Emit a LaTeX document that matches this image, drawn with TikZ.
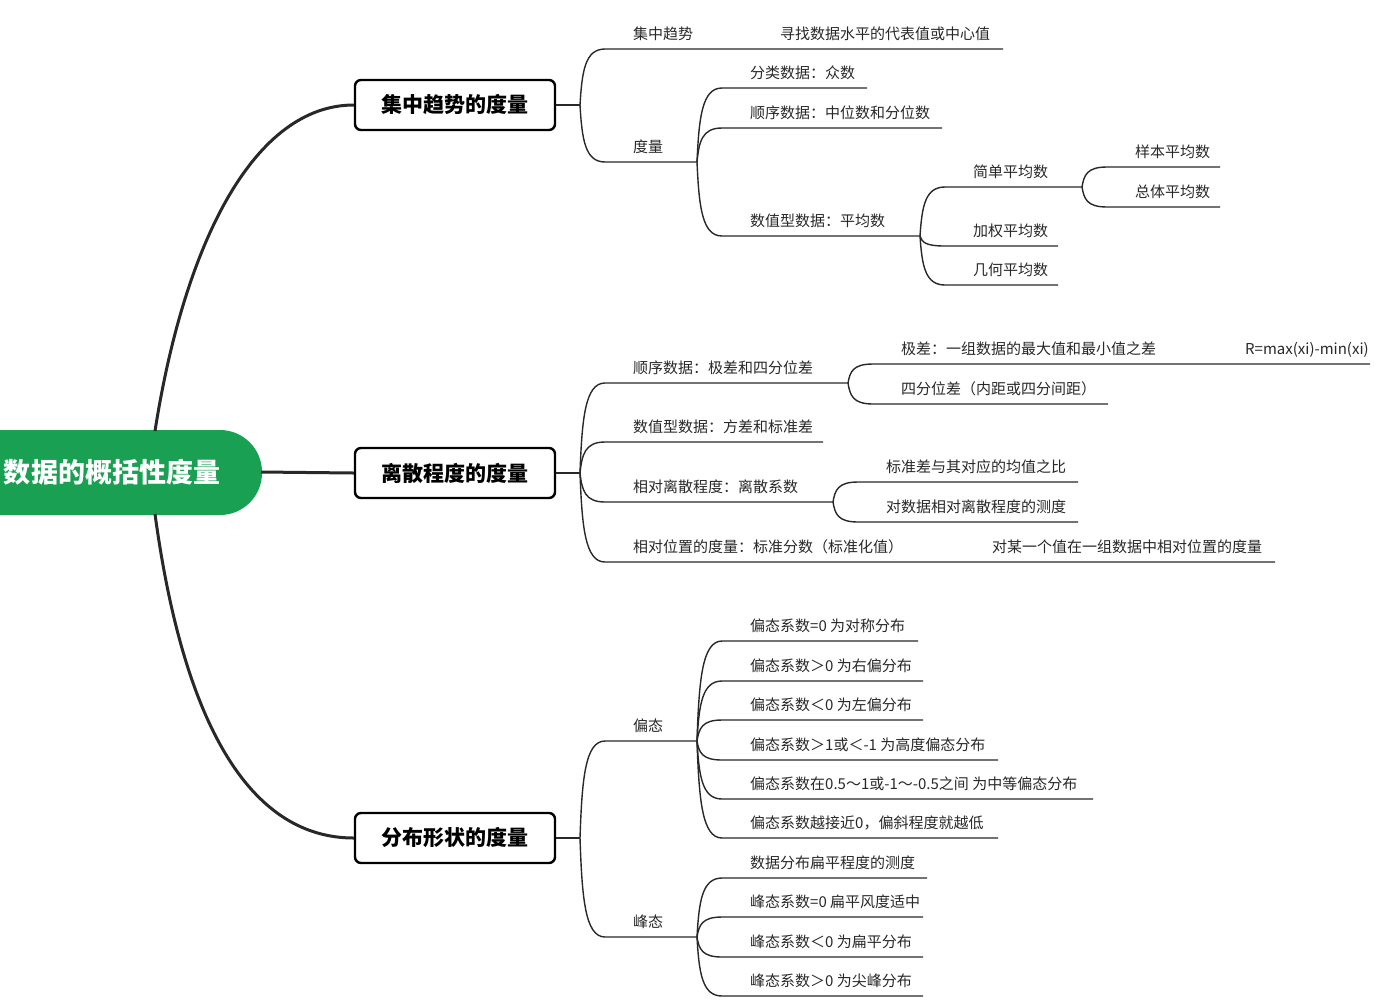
\documentclass[tikz,border=0pt]{standalone}
\usepackage{fontspec}
\setmainfont{Noto Sans CJK SC}
\definecolor{rootgreen}{RGB}{26,160,82}
\definecolor{ink}{RGB}{40,40,40}
% #1 name, #2 branch coordinate, #3 branch x, #4 branch y, #5 line y, #6 line end x, #7 text
\newcommand\leaf[7]{%
  \coordinate (#1-a) at ({#3+25},{#5});
  \coordinate (#1-b) at ({#6},{#5});
  \draw[sub] (#2) .. controls ({#3+2},{#4+0.6*(#5-#4)}) and ({#3+5},{#5}) .. (#1-a) -- (#1-b);
  \node[lbl] (#1) at ({#3+53},{#5-10}) {#7};
}
\begin{document}
\begin{tikzpicture}[x=1pt,y=-1pt,
  sub/.style={draw=ink,line width=1.4pt},
  main/.style={draw=ink,line width=3pt},
  lbl/.style={anchor=base west,inner sep=0pt,font=\fontsize{15}{18}\selectfont,text=ink},
  topicbox/.style={draw=black,line width=2.4pt,rounded corners=6pt,fill=white,
    minimum width=200pt,minimum height=50pt,inner sep=0pt,
    font=\fontsize{21}{25}\selectfont\bfseries}]
\useasboundingbox (0,0) rectangle (1388,1005);

% root
\path[fill=rootgreen,rounded corners=42pt] (-90,430) rectangle (262,515);
\node[inner sep=0pt,text=white,font=\fontsize{27}{32}\selectfont\bfseries] (root) at (112,472) {数据的概括性度量};
\coordinate (root-n) at (155,431);
\coordinate (root-e) at (261,472);
\coordinate (root-s) at (155,514);

% main topics
\node[topicbox] (t1) at (455,105) {集中趋势的度量};
\node[topicbox] (t2) at (455,473) {离散程度的度量};
\node[topicbox] (t3) at (455,838) {分布形状的度量};

\draw[main] (root-n) .. controls (185,240) and (255,105) .. (t1.west);
\draw[main] (root-e) -- (t2.west);
\draw[main] (root-s) .. controls (185,735) and (255,838) .. (t3.west);

\coordinate (b1) at (580,105);
\coordinate (b2) at (580,473);
\coordinate (b3) at (580,838);
\draw[sub] (t1.east) -- (b1);
\draw[sub] (t2.east) -- (b2);
\draw[sub] (t3.east) -- (b3);

% ---- 集中趋势的度量
\leaf{jzqs}{b1}{580}{105}{49}{1003}{集中趋势}
\node[lbl] (jzqs-c) at (780,39) {寻找数据水平的代表值或中心值};
\leaf{dl}{b1}{580}{105}{162}{697}{度量}
\leaf{fl}{dl-b}{697}{162}{88}{867}{分类数据：众数}
\leaf{sx}{dl-b}{697}{162}{128}{942}{顺序数据：中位数和分位数}
\leaf{szx}{dl-b}{697}{162}{236}{920}{数值型数据：平均数}
\leaf{jd}{szx-b}{920}{236}{187}{1082}{简单平均数}
\leaf{jq}{szx-b}{920}{236}{246}{1058}{加权平均数}
\leaf{jh}{szx-b}{920}{236}{285}{1058}{几何平均数}
\leaf{yb}{jd-b}{1082}{187}{167}{1220}{样本平均数}
\leaf{zt}{jd-b}{1082}{187}{207}{1220}{总体平均数}

% ---- 离散程度的度量
\leaf{sx2}{b2}{580}{473}{383}{848}{顺序数据：极差和四分位差}
\leaf{szx2}{b2}{580}{473}{442}{823}{数值型数据：方差和标准差}
\leaf{xd}{b2}{580}{473}{502}{833}{相对离散程度：离散系数}
\leaf{xw}{b2}{580}{473}{562}{1275}{相对位置的度量：标准分数（标准化值）}
\node[lbl] (xw-c) at (992,552) {对某一个值在一组数据中相对位置的度量};
\leaf{jc}{sx2-b}{848}{383}{364}{1370}{极差：一组数据的最大值和最小值之差}
\node[lbl] (jc-c) at (1245,354) {R=max(xi)-min(xi)};
\leaf{sf}{sx2-b}{848}{383}{404}{1108}{四分位差（内距或四分间距）}
\leaf{bz}{xd-b}{833}{502}{482}{1078}{标准差与其对应的均值之比}
\leaf{dsj}{xd-b}{833}{502}{522}{1078}{对数据相对离散程度的测度}

% ---- 分布形状的度量
\leaf{pt}{b3}{580}{838}{741}{697}{偏态}
\leaf{ft}{b3}{580}{838}{937}{697}{峰态}
\leaf{p1}{pt-b}{697}{741}{641}{918}{偏态系数=0 为对称分布}
\leaf{p2}{pt-b}{697}{741}{681}{923}{偏态系数＞0 为右偏分布}
\leaf{p3}{pt-b}{697}{741}{720}{923}{偏态系数＜0 为左偏分布}
\leaf{p4}{pt-b}{697}{741}{760}{998}{偏态系数＞1或＜-1 为高度偏态分布}
\leaf{p5}{pt-b}{697}{741}{799}{1093}{偏态系数在0.5～1或-1～-0.5之间 为中等偏态分布}
\leaf{p6}{pt-b}{697}{741}{838}{998}{偏态系数越接近0，偏斜程度就越低}
\leaf{f1}{ft-b}{697}{937}{878}{927}{数据分布扁平程度的测度}
\leaf{f2}{ft-b}{697}{937}{917}{923}{峰态系数=0 扁平风度适中}
\leaf{f3}{ft-b}{697}{937}{957}{923}{峰态系数＜0 为扁平分布}
\leaf{f4}{ft-b}{697}{937}{996}{923}{峰态系数＞0 为尖峰分布}
\end{tikzpicture}
\end{document}
